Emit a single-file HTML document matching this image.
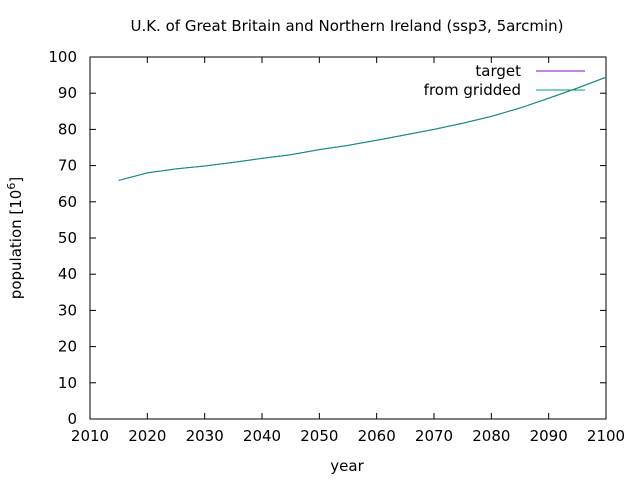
<!DOCTYPE html>
<html><head><meta charset="utf-8"><style>
body{margin:0;background:#fff;}
svg{font-family:"DejaVu Sans","Liberation Sans",sans-serif;}
</style></head><body>
<svg id="c" width="640" height="480" xmlns="http://www.w3.org/2000/svg">
<rect width="640" height="480" fill="#fff"/>
<text x="347" y="31" font-size="15" text-anchor="middle">U.K. of Great Britain and Northern Ireland (ssp3, 5arcmin)</text>
<rect x="90" y="57" width="516" height="362" fill="none" stroke="#000"/>
<g id="ticks"></g>
<text x="347" y="471" font-size="15" text-anchor="middle">year</text>
<text transform="translate(21,238) rotate(-90)" font-size="15" text-anchor="middle">population [10<tspan dy="-6" font-size="11">6</tspan><tspan dy="6">]</tspan></text>
<g>
<text x="521" y="76" font-size="15" text-anchor="end">target</text>
<line x1="536" y1="71" x2="585" y2="71" stroke="#9400d3"/>
<text x="521" y="95" font-size="15" text-anchor="end">from gridded</text>
<line x1="536" y1="90" x2="585" y2="90" stroke="#009e73"/>
</g>
<g id="series"></g>
</svg>
<script>
const years=[2015,2020,2025,2030,2035,2040,2045,2050,2055,2060,2065,2070,2075,2080,2085,2090,2095,2100];
const target=[65.9,68.0,69.1,69.9,70.9,72.0,73.0,74.4,75.6,77.0,78.5,80.0,81.7,83.6,85.9,88.6,91.4,94.4];
const gridded=[65.9,68.0,69.1,69.9,70.9,72.0,73.0,74.4,75.6,77.0,78.5,80.0,81.7,83.6,85.9,88.6,91.4,94.4];
const xTicks=[2010,2020,2030,2040,2050,2060,2070,2080,2090,2100];
const yTicks=[0,10,20,30,40,50,60,70,80,90,100];
const NS="http://www.w3.org/2000/svg";
const X=v=>90+(v-2010)/90*516, Y=v=>419-v/100*362;
const tg=document.getElementById('ticks');
function mk(t,a,p){const e=document.createElementNS(NS,t);for(const k in a)e.setAttribute(k,a[k]);p.appendChild(e);return e;}
xTicks.forEach(t=>{const x=X(t);
 const l1=mk('line',{x1:x,y1:419,x2:x,y2:413,stroke:'#000'},tg);
 
 
 const l2=mk('line',{x1:x,y1:57,x2:x,y2:63,stroke:'#000'},tg);
 
 
 const tx=mk('text',{x:x,y:441,'font-size':15,'text-anchor':'middle'},tg);tx.textContent=t;
 
 
});
yTicks.forEach(t=>{const y=Y(t);
 const l1=mk('line',{x1:90,y1:y,x2:96,y2:y,stroke:'#000'},tg);
 
 
 const l2=mk('line',{x1:606,y1:y,x2:600,y2:y,stroke:'#000'},tg);
 
 
 const tx=mk('text',{x:77,y:y+5,'font-size':15,'text-anchor':'end'},tg);tx.textContent=t;
 
 
});
const sg=document.getElementById('series');
function line(d,c,n){const p=mk('polyline',{points:years.map((y,i)=>X(y)+','+Y(d[i])).join(' '),fill:'none',stroke:c,'stroke-width':1},sg);
 
 }
line(target,'#9400d3','target-line');
line(gridded,'#009e73','gridded-line');
</script>
</body></html>
